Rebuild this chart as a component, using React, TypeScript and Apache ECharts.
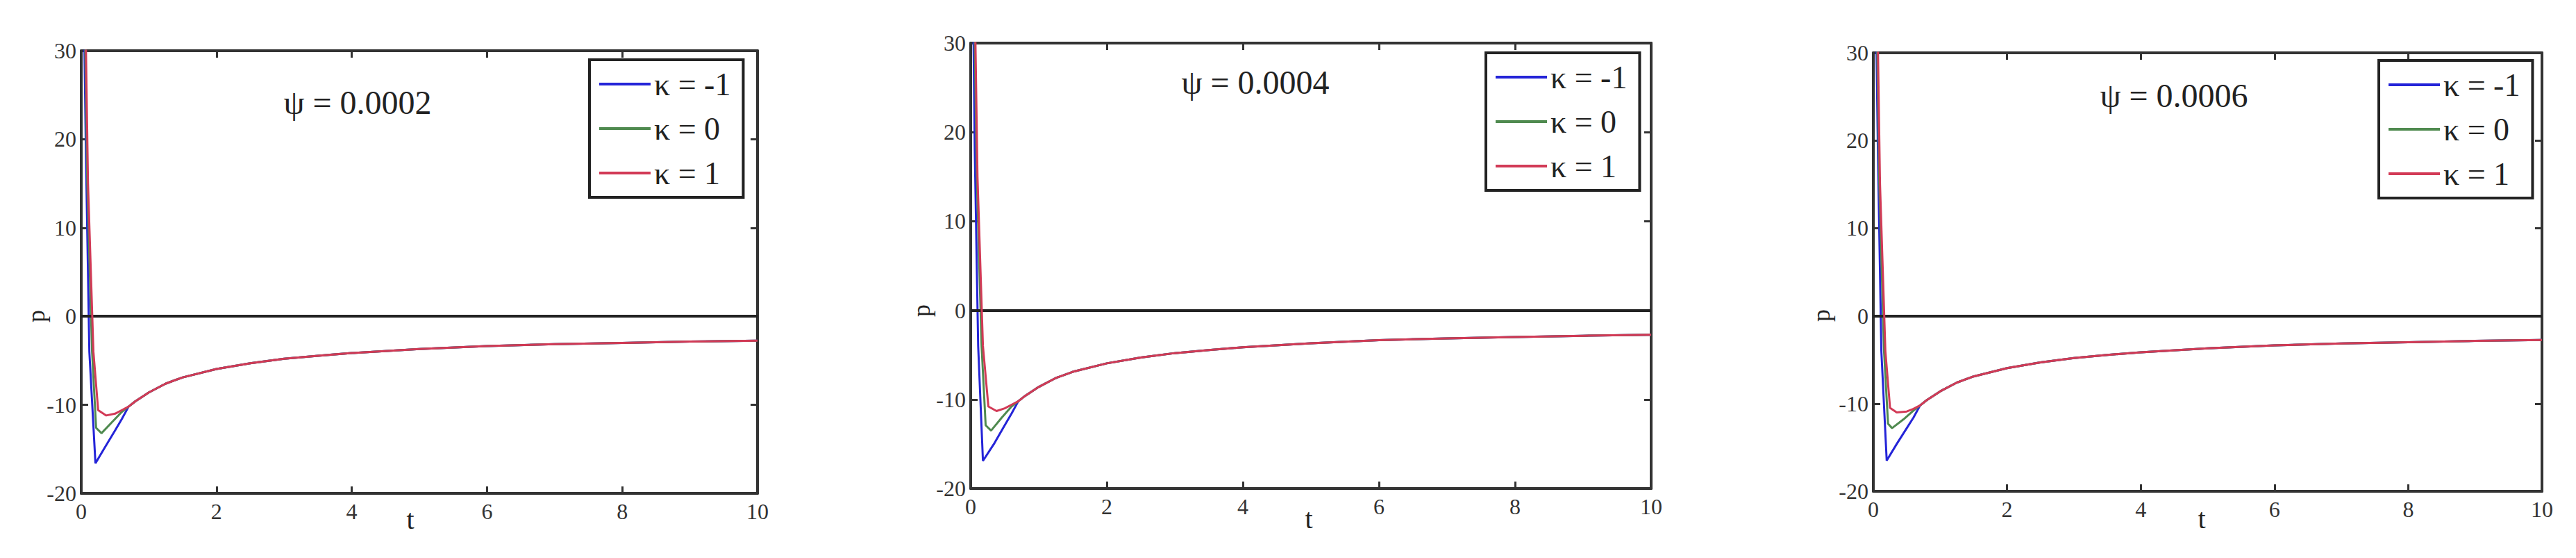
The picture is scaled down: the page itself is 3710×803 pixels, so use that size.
import React, { useEffect, useRef } from "react";
import * as echarts from "echarts";

// ---------- data ----------
const NAMES = ["κ = -1", "κ = 0", "κ = 1"];
const TITLES = ["ψ = 0.0002", "ψ = 0.0004", "ψ = 0.0006"];

// common tail (all three κ curves coincide here)
const T_TAIL = [0.7, 0.8, 1, 1.25, 1.5, 2, 2.5, 3, 3.5, 4, 5, 6, 7, 8, 9, 10];
const P_TAIL = [-10.2, -9.6, -8.6, -7.6, -6.9, -5.95, -5.3, -4.8, -4.45, -4.15, -3.7, -3.35, -3.15, -3.0, -2.85, -2.75];

// panel 1 (ψ = 0.0002) early part
const P1_T_NEG = [0.02, 0.07, 0.12, 0.21, 0.35, 0.5, 0.6];
const P1_P_NEG = [45, 18, -4, -16.6, -14.8, -12.9, -11.6];
const P1_T_ZERO = [0.03, 0.09, 0.16, 0.22, 0.3, 0.45, 0.6];
const P1_P_ZERO = [45, 15, -4, -12.6, -13.2, -12.0, -10.8];
const P1_T_POS = [0.04, 0.1, 0.18, 0.25, 0.37, 0.5, 0.6];
const P1_P_POS = [45, 15, -4, -10.6, -11.2, -11.0, -10.6];

// panel 2 (ψ = 0.0004)
const P2_T_NEG = [0.02, 0.06, 0.11, 0.18, 0.35, 0.5, 0.6];
const P2_P_NEG = [45, 18, -4, -16.9, -14.9, -12.9, -11.6];
const P2_T_ZERO = [0.03, 0.09, 0.16, 0.22, 0.3, 0.45, 0.6];
const P2_P_ZERO = [45, 15, -4, -12.9, -13.5, -12.1, -10.8];
const P2_T_POS = [0.04, 0.1, 0.18, 0.26, 0.38, 0.5, 0.6];
const P2_P_POS = [45, 15, -4, -10.8, -11.3, -11.0, -10.6];

// panel 3 (ψ = 0.0006)
const P3_T_NEG = [0.02, 0.07, 0.12, 0.2, 0.35, 0.5, 0.6];
const P3_P_NEG = [45, 18, -4, -16.5, -14.6, -12.8, -11.6];
const P3_T_ZERO = [0.03, 0.09, 0.16, 0.22, 0.28, 0.45, 0.6];
const P3_P_ZERO = [45, 15, -4, -12.3, -12.8, -11.8, -10.8];
const P3_T_POS = [0.04, 0.1, 0.18, 0.25, 0.35, 0.5, 0.6];
const P3_P_POS = [45, 15, -4, -10.5, -11.0, -10.9, -10.6];

const PANELS = [
  { t: [P1_T_NEG, P1_T_ZERO, P1_T_POS], p: [P1_P_NEG, P1_P_ZERO, P1_P_POS] },
  { t: [P2_T_NEG, P2_T_ZERO, P2_T_POS], p: [P2_P_NEG, P2_P_ZERO, P2_P_POS] },
  { t: [P3_T_NEG, P3_T_ZERO, P3_T_POS], p: [P3_P_NEG, P3_P_ZERO, P3_P_POS] },
];

// ---------- layout / style ----------
const GRIDS = [
  { left: 117, top: 73, width: 974, height: 637 },
  { left: 1398, top: 62, width: 980, height: 641 },
  { left: 2698, top: 76, width: 963, height: 631 },
];
const LEGENDS = [
  { left: 849, top: 86 },
  { left: 2140, top: 76 },
  { left: 3426, top: 87 },
];
const TITLE_POS = [
  [515, 147],
  [1808, 118],
  [3131, 137],
];
const PLABEL_POS = [
  [52, 455],
  [1327, 447],
  [2623, 454],
];
const TLABEL_POS = [
  [591, 747],
  [1885, 746],
  [3171, 746],
];
const COLORS = ["#2424d8", "#4f8a4f", "#d23a56"];
const FONT = "Liberation Serif";
const AXIS_COLOR = "#333";

function buildOption() {
  const grid: any[] = [];
  const xAxis: any[] = [];
  const yAxis: any[] = [];
  const series: any[] = [];
  const legend: any[] = [];
  const graphic: any[] = [];

  const axisLine = { show: true, onZero: false, lineStyle: { color: AXIS_COLOR, width: 4 } };
  const axisTick = { show: true, inside: true, length: 10, lineStyle: { color: AXIS_COLOR, width: 3 } };

  GRIDS.forEach((g, i) => {
    grid.push({ ...g, containLabel: false, show: false });
    const xBase = { gridIndex: i, type: "value", min: 0, max: 10, interval: 2, splitLine: { show: false }, axisLine, axisTick };
    const yBase = { gridIndex: i, type: "value", min: -20, max: 30, interval: 10, splitLine: { show: false }, axisLine, axisTick };
    xAxis.push({
      ...xBase,
      position: "bottom",
      axisLabel: { show: true, fontSize: 32, fontFamily: FONT, color: "#333", margin: 10 },
    });
    xAxis.push({ ...xBase, position: "top", axisLabel: { show: false } });
    yAxis.push({
      ...yBase,
      position: "left",
      axisLabel: { show: true, fontSize: 32, fontFamily: FONT, color: "#333", margin: 7 },
    });
    yAxis.push({ ...yBase, position: "right", axisLabel: { show: false } });

    const panel = PANELS[i];
    NAMES.forEach((name, k) => {
      const ts = [...panel.t[k], ...T_TAIL];
      const ps = [...panel.p[k], ...P_TAIL];
      const s: any = {
        name,
        type: "line",
        xAxisIndex: 2 * i,
        yAxisIndex: 2 * i,
        data: ts.map((t, j) => [t, ps[j]]),
        showSymbol: false,
        symbol: "none",
        clip: true,
        lineStyle: { color: COLORS[k], width: 3 },
        itemStyle: { color: COLORS[k] },
        z: 3 + k,
      };
      if (k === 0) {
        s.markLine = {
          silent: true,
          symbol: "none",
          label: { show: false },
          lineStyle: { color: "#222", width: 4, type: "solid" },
          data: [{ yAxis: 0 }],
        };
      }
      series.push(s);
    });

    legend.push({
      data: NAMES,
      orient: "vertical",
      left: LEGENDS[i].left,
      top: LEGENDS[i].top,
      padding: [10, 18, 10, 14],
      itemWidth: 74,
      itemHeight: 4,
      itemGap: 14,
      icon: "rect",
      selectedMode: false,
      borderColor: "#222",
      borderWidth: 4,
      backgroundColor: "#fff",
      textStyle: { fontSize: 46, lineHeight: 50, fontFamily: FONT, color: "#222" },
    });

    const txt = (text: string, x: number, y: number, size: number, rot = 0) => ({
      type: "text",
      x,
      y,
      rotation: rot,
      style: {
        text,
        fontSize: size,
        fontFamily: FONT,
        fill: "#222",
        align: "center",
        verticalAlign: "middle",
        textAlign: "center",
        textVerticalAlign: "middle",
      },
    });
    graphic.push(txt(TITLES[i], TITLE_POS[i][0], TITLE_POS[i][1], 48));
    graphic.push(txt("p", PLABEL_POS[i][0], PLABEL_POS[i][1], 36, Math.PI / 2));
    graphic.push(txt("t", TLABEL_POS[i][0], TLABEL_POS[i][1], 40));
  });

  return {
    animation: false,
    backgroundColor: "#ffffff",
    textStyle: { fontFamily: FONT },
    grid,
    xAxis,
    yAxis,
    series,
    legend,
    graphic,
  };
}

export default function App() {
  const ref = useRef<HTMLDivElement>(null);
  useEffect(() => {
    document.body.style.margin = "0";
    if (!ref.current) return;
    const chart = echarts.init(ref.current, null, { renderer: "svg" });
    chart.setOption(buildOption() as any);
    return () => chart.dispose();
  }, []);
  return (
    <div
      ref={ref}
      style={{ position: "absolute", left: 0, top: 0, width: 3710, height: 803, background: "#fff" }}
    />
  );
}
